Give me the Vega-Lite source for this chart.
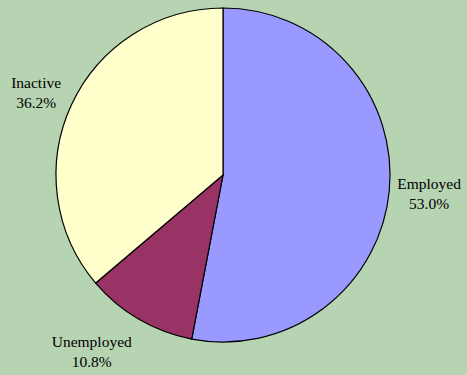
{
  "$schema": "https://vega.github.io/schema/vega-lite/v6.json",
  "autosize": {"type": "none"},
  "width": 446,
  "height": 350,
  "padding": {"left": 0, "top": 0, "right": 21, "bottom": 25},
  "background": "#B6D3B2",
  "view": {"stroke": null},
  "data": {
    "values": [
      {"category": "Employed", "share": 53.0, "order": 1},
      {"category": "Unemployed", "share": 10.8, "order": 2},
      {"category": "Inactive", "share": 36.2, "order": 3}
    ]
  },
  "transform": [
    {"stack": "share", "groupby": [], "sort": [{"field": "order"}], "as": ["s0", "s1"]},
    {"calculate": "(datum.s0 + datum.s1) / 2", "as": "mid"},
    {"calculate": "datum.category + '\\n' + format(datum.share, '.1f') + '%'", "as": "label"}
  ],
  "layer": [
    {
      "mark": {"type": "arc", "outerRadius": 167, "stroke": "#000000", "strokeWidth": 1.2},
      "encoding": {
        "theta": {"field": "s0", "type": "quantitative", "scale": {"domain": [0, 100]}},
        "theta2": {"field": "s1"},
        "color": {
          "field": "category",
          "type": "nominal",
          "scale": {"domain": ["Employed", "Unemployed", "Inactive"], "range": ["#9999FF", "#993366", "#FFFFCC"]},
          "legend": null
        }
      }
    },
    {
      "transform": [{"filter": "datum.category === 'Employed'"}],
      "mark": {"type": "text", "radius": 207, "dy": -10, "font": "Liberation Serif", "fontSize": 15.5, "lineBreak": "\n", "lineHeight": 20, "align": "center", "baseline": "middle", "color": "#000000"},
      "encoding": {
        "theta": {"field": "mid", "type": "quantitative", "scale": {"domain": [0, 100]}},
        "text": {"field": "label"}
      }
    },
    {
      "transform": [{"filter": "datum.category === 'Inactive'"}],
      "mark": {"type": "text", "radius": 207, "dx": 1, "dy": -5, "font": "Liberation Serif", "fontSize": 15.5, "lineBreak": "\n", "lineHeight": 20, "align": "center", "baseline": "middle", "color": "#000000"},
      "encoding": {
        "theta": {"field": "mid", "type": "quantitative", "scale": {"domain": [0, 100]}},
        "text": {"field": "label"}
      }
    },
    {
      "transform": [{"filter": "datum.category === 'Unemployed'"}],
      "mark": {"type": "text", "radius": 207, "dx": -27, "dy": -12, "font": "Liberation Serif", "fontSize": 15.5, "lineBreak": "\n", "lineHeight": 20, "align": "center", "baseline": "middle", "color": "#000000"},
      "encoding": {
        "theta": {"field": "mid", "type": "quantitative", "scale": {"domain": [0, 100]}},
        "text": {"field": "label"}
      }
    }
  ]
}
